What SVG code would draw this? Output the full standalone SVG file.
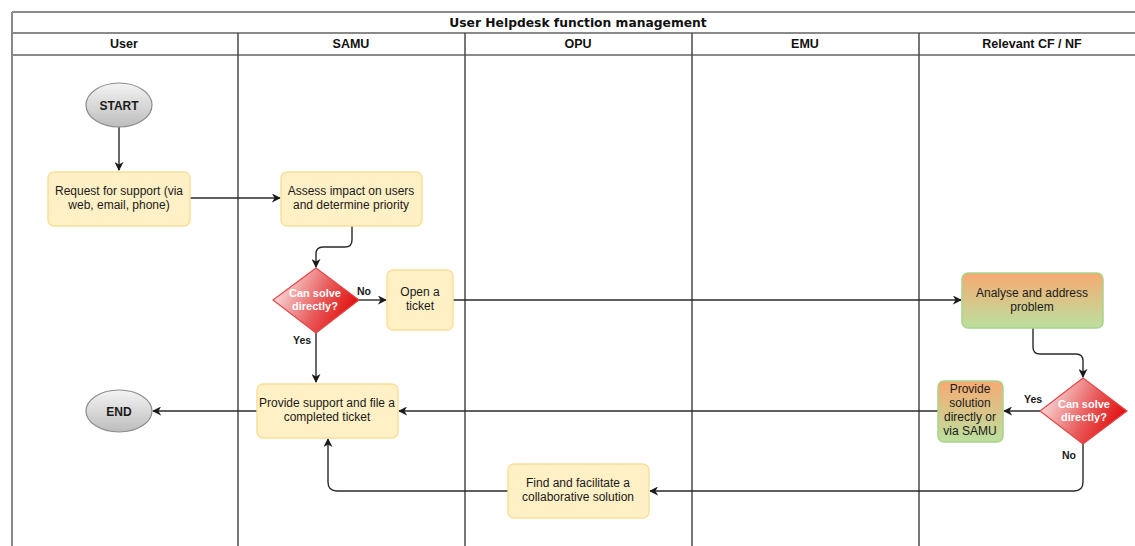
<svg xmlns="http://www.w3.org/2000/svg" width="1135" height="546" viewBox="0 0 1135 546">
  <defs>
    <linearGradient id="gradTerm" x1="0" y1="0" x2="0" y2="1">
      <stop offset="0" stop-color="#f4f4f4"/>
      <stop offset="1" stop-color="#bdbdbd"/>
    </linearGradient>
    <linearGradient id="gradDecision" x1="0" y1="0.3" x2="1" y2="0.7">
      <stop offset="0" stop-color="#fbe6e6"/>
      <stop offset="0.55" stop-color="#e85a5a"/>
      <stop offset="1" stop-color="#e00000"/>
    </linearGradient>
    <linearGradient id="gradNf" x1="0" y1="0" x2="0" y2="1">
      <stop offset="0" stop-color="#f7aa72"/>
      <stop offset="1" stop-color="#bbe09f"/>
    </linearGradient>
    <marker id="arrow" viewBox="0 0 10 10" refX="9" refY="5" markerWidth="9" markerHeight="9" markerUnits="userSpaceOnUse" orient="auto">
      <path d="M0,0 L10,5 L0,10 L3,5 Z" fill="#1a1a1a"/>
    </marker>
  </defs>
  <style>
    .frame { fill: none; stroke: #8a8a8a; stroke-width: 2; }
    .lane { stroke: #4a4a4a; stroke-width: 1.5; }
    .title { font-family: "DejaVu Sans", Verdana, sans-serif; font-weight: bold; font-size: 12.3px; fill: #111; }
    .head { font-family: "Liberation Sans", Arial, sans-serif; font-weight: bold; font-size: 12.5px; fill: #111; }
    .task { fill: #fff0c6; stroke: #f9e09a; stroke-width: 1.5; }
    .nf { fill: url(#gradNf); stroke: #a8d48c; stroke-width: 1.5; }
    .term { fill: url(#gradTerm); stroke: #8c8c8c; stroke-width: 1.2; }
    .decision { fill: url(#gradDecision); stroke: #e04848; stroke-width: 1.2; }
    .txt { font-family: "Liberation Sans", Arial, sans-serif; font-size: 12px; fill: #1a1a1a; text-anchor: middle; }
    .ttxt { font-family: "Liberation Sans", Arial, sans-serif; font-weight: bold; font-size: 12px; fill: #1a1a1a; text-anchor: middle; }
    .dtxt { font-family: "Liberation Sans", Arial, sans-serif; font-weight: bold; font-size: 11px; fill: #ffffff; text-anchor: middle; }
    .lbl { font-family: "Liberation Sans", Arial, sans-serif; font-weight: bold; font-size: 10.5px; fill: #1a1a1a; }
    .conn { fill: none; stroke: #2a2a2a; stroke-width: 1.4; marker-end: url(#arrow); }
  </style>

  <rect width="1135" height="546" fill="#ffffff"/>

  <!-- pool frame, title band and lane header -->
  <g id="pool">
    <line class="frame" x1="12" y1="12" x2="1146" y2="12"/>
    <line class="frame" x1="12" y1="33" x2="1146" y2="33"/>
    <line class="frame" x1="12" y1="55" x2="1146" y2="55"/>
    <line class="frame" x1="12" y1="12" x2="12" y2="546"/>
    <line class="lane" x1="238" y1="33" x2="238" y2="546"/>
    <line class="lane" x1="465" y1="33" x2="465" y2="546"/>
    <line class="lane" x1="692" y1="33" x2="692" y2="546"/>
    <line class="lane" x1="919" y1="33" x2="919" y2="546"/>
    <text class="title" x="578" y="27" text-anchor="middle">User Helpdesk function management</text>
    <text class="head" x="124" y="48" text-anchor="middle">User</text>
    <text class="head" x="351" y="48" text-anchor="middle">SAMU</text>
    <text class="head" x="578" y="48" text-anchor="middle">OPU</text>
    <text class="head" x="805" y="48" text-anchor="middle">EMU</text>
    <text class="head" x="1032" y="48" text-anchor="middle">Relevant CF / NF</text>
  </g>

  <!-- connectors -->
  <g id="connectors">
    <path class="conn" d="M119,127 L119,170"/>
    <path class="conn" d="M190,198 L280,198"/>
    <path class="conn" d="M352,226 L352,240 Q352,247 345,247 L323,247 Q316,247 316,254 L316,267"/>
    <path class="conn" d="M358,300 L386,300"/>
    <path class="conn" d="M453,300 L961,300"/>
    <path class="conn" d="M1033,328 L1033,347 Q1033,354 1040,354 L1076,354 Q1083,354 1083,361 L1083,377"/>
    <path class="conn" d="M1040,411 L1004,411"/>
    <path class="conn" d="M938,411 L399,411"/>
    <path class="conn" d="M316,333 L316,382"/>
    <path class="conn" d="M257,411 L153,411"/>
    <path class="conn" d="M1083,443 L1083,482 Q1083,491 1074,491 L650,491"/>
    <path class="conn" d="M508,491 L337,491 Q328,491 328,482 L328,439"/>
  </g>

  <g id="start">
    <ellipse class="term" cx="119" cy="105" rx="33" ry="22"/>
    <text class="ttxt" x="119" y="109.5">START</text>
  </g>

  <g id="end">
    <ellipse class="term" cx="119" cy="411" rx="33" ry="21"/>
    <text class="ttxt" x="119" y="415.5">END</text>
  </g>

  <g id="request">
    <rect class="task" x="48" y="172" width="142" height="54" rx="6"/>
    <text class="txt" x="119" y="195">Request for support (via</text>
    <text class="txt" x="119" y="209">web, email, phone)</text>
  </g>

  <g id="assess">
    <rect class="task" x="281" y="172" width="141" height="54" rx="6"/>
    <text class="txt" x="351" y="195">Assess impact on users</text>
    <text class="txt" x="351" y="209">and determine priority</text>
  </g>

  <g id="decision-samu">
    <polygon class="decision" points="316,268 359,300 316,333 273,300"/>
    <text class="dtxt" x="315" y="297">Can solve</text>
    <text class="dtxt" x="315" y="310">directly?</text>
    <text class="lbl" x="357" y="295">No</text>
    <text class="lbl" x="293" y="344">Yes</text>
  </g>

  <g id="open-ticket">
    <rect class="task" x="387" y="270" width="66" height="60" rx="6"/>
    <text class="txt" x="420" y="296">Open a</text>
    <text class="txt" x="420" y="310">ticket</text>
  </g>

  <g id="analyse">
    <rect class="nf" x="962" y="273" width="141" height="55" rx="6"/>
    <text class="txt" x="1032" y="297">Analyse and address</text>
    <text class="txt" x="1032" y="311">problem</text>
  </g>

  <g id="decision-nf">
    <polygon class="decision" points="1083,378 1127,411 1083,444 1040,411"/>
    <text class="dtxt" x="1084" y="408">Can solve</text>
    <text class="dtxt" x="1084" y="421">directly?</text>
    <text class="lbl" x="1024" y="403">Yes</text>
    <text class="lbl" x="1062" y="459">No</text>
  </g>

  <g id="provide-solution">
    <rect class="nf" x="938" y="381" width="65" height="61" rx="6"/>
    <text class="txt" x="970" y="393">Provide</text>
    <text class="txt" x="970" y="407">solution</text>
    <text class="txt" x="970" y="421">directly or</text>
    <text class="txt" x="970" y="435">via SAMU</text>
  </g>

  <g id="provide-support">
    <rect class="task" x="257" y="384" width="141" height="54" rx="6"/>
    <text class="txt" x="327" y="407">Provide support and file a</text>
    <text class="txt" x="327" y="421">completed ticket</text>
  </g>

  <g id="collaborative">
    <rect class="task" x="508" y="464" width="141" height="54" rx="6"/>
    <text class="txt" x="578" y="487">Find and facilitate a</text>
    <text class="txt" x="578" y="501">collaborative solution</text>
  </g>
</svg>
